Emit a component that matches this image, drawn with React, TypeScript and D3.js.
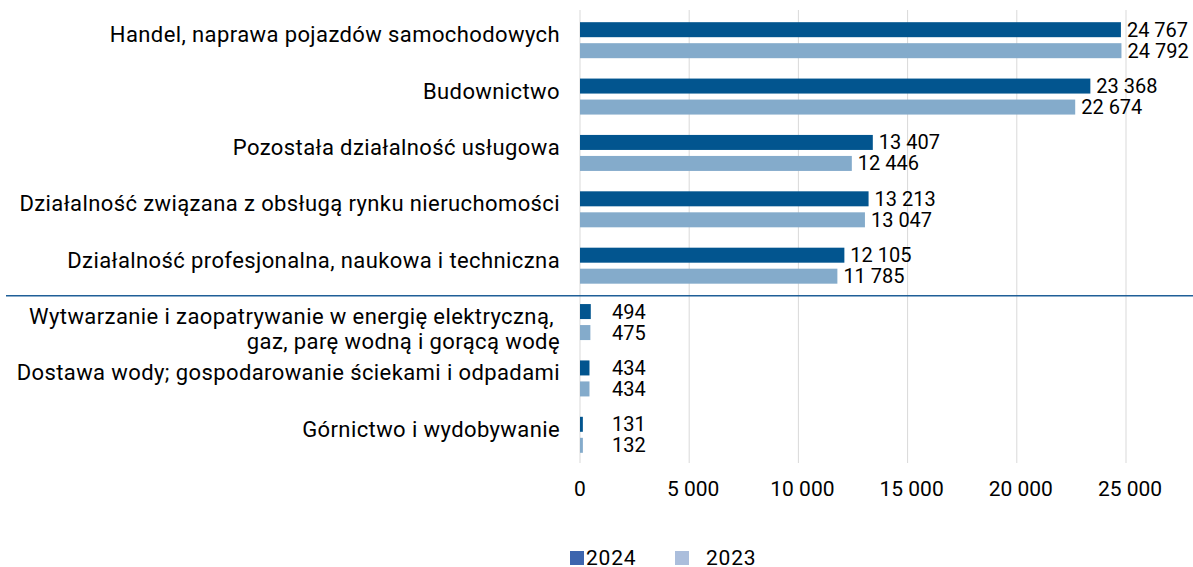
import React from "react";
import * as d3 from "d3";

const categories = [
  "Handel, naprawa pojazdów samochodowych",
  "Budownictwo",
  "Pozostała działalność usługowa",
  "Działalność związana z obsługą rynku nieruchomości",
  "Działalność profesjonalna, naukowa i techniczna",
  "Wytwarzanie i zaopatrywanie w energię elektryczną,|gaz, parę wodną i gorącą wodę",
  "Dostawa wody; gospodarowanie ściekami i odpadami",
  "Górnictwo i wydobywanie",
];
const values2024 = [24767, 23368, 13407, 13213, 12105, 494, 434, 131];
const values2023 = [24792, 22674, 12446, 13047, 11785, 475, 434, 132];
const tickValues = [0, 5000, 10000, 15000, 20000, 25000];
const tickLabels = ["0", "5  000", "10 000", "15 000", "20 000", "25 000"];
const seriesNames = ["2024", "2023"];

const W = 1193;
const H = 567;
const C2024 = "#02558f";
const C2023 = "#84abcb";
const FONT = "Roboto, 'Noto Sans', sans-serif";

const fmt = (v: number) => {
  const s = String(v);
  return s.length > 3 ? s.slice(0, s.length - 3) + " " + s.slice(-3) : s;
};

export default function App() {
  const x = d3.scaleLinear().domain([0, 25000]).range([580, 1126]);
  const y = d3.scaleBand<string>().domain(categories).range([12, 463]).paddingInner(0).paddingOuter(0);
  const step = y.step();
  const center = (c: string) => (y(c) as number) + step / 2;
  const barH = 15;
  const sepY = (y(categories[5]) as number) + 1.8;

  const labelX = (v: number) => Math.max(x(v) + 6, x(0) + 32);

  return (
    <svg width={W} height={H} style={{ position: "absolute", left: 0, top: 0, background: "#fff" }} fontFamily={FONT}>
      {tickValues.map((t) => (
        <line key={t} x1={x(t)} x2={x(t)} y1={10} y2={463} stroke="#d9d9d9" strokeWidth={1} />
      ))}
      {categories.map((c, i) => {
        const cy = center(c);
        const lines = c.split("|");
        return (
          <g key={c}>
            <rect x={x(0)} y={cy - 18} width={x(values2024[i]) - x(0)} height={barH} fill={C2024} />
            <rect x={x(0)} y={cy + 3} width={x(values2023[i]) - x(0)} height={barH} fill={C2023} />
            <text x={labelX(values2024[i])} y={cy - 10.5} dominantBaseline="central" fontSize={20} fill="#000">
              {fmt(values2024[i])}
            </text>
            <text x={labelX(values2023[i])} y={cy + 10.5} dominantBaseline="central" fontSize={20} fill="#000">
              {fmt(values2023[i])}
            </text>
            {lines.map((l, k) => (
              <text
                key={k}
                x={lines.length > 1 && k === 0 ? 554 : 560}
                y={cy + 2 + k * 25}
                textAnchor="end"
                fontSize={22}
                letterSpacing={0.4}
                fill="#000"
              >
                {l}
              </text>
            ))}
          </g>
        );
      })}
      <line x1={6} x2={W} y1={sepY} y2={sepY} stroke="#1f5f98" strokeWidth={1.5} />
      {tickValues.map((t, i) => (
        <text key={t} x={x(t) + (i === 0 ? 0 : 4)} y={489} textAnchor="middle" dominantBaseline="central" fontSize={21} fill="#000">
          {tickLabels[i]}
        </text>
      ))}
      <rect x={570} y={551} width={14} height={14} fill="#3d65ae" />
      <text x={586} y={558} dominantBaseline="central" fontSize={21} letterSpacing={0.8} fill="#000">{seriesNames[0]}</text>
      <rect x={675} y={551} width={14} height={14} fill="#abbedc" />
      <text x={706} y={558} dominantBaseline="central" fontSize={21} letterSpacing={0.8} fill="#000">{seriesNames[1]}</text>
    </svg>
  );
}
